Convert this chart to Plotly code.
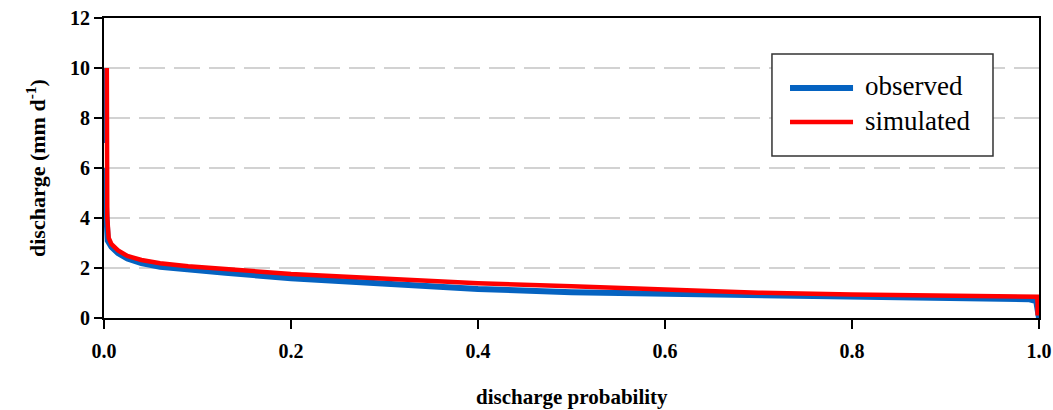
import plotly.graph_objects as go

# observed flow duration curve (None marks a gap in the drawn line)
obs_prob = [0.0, 0.0003, None, 0.0, 0.001, 0.002, 0.004, 0.008, 0.015, 0.025, 0.04, 0.06, 0.09,
            0.13, 0.2, 0.27, 0.33, 0.4, 0.5, 0.6, 0.7, 0.8, 0.9, 0.96, 0.99, 0.997, 1.0]
obs_q = [10.0, 7.0, None, 6.0, 5.0, 3.8, 3.1, 2.85, 2.6, 2.38, 2.2, 2.05, 1.93,
         1.81, 1.59, 1.42, 1.3, 1.16, 1.03, 0.97, 0.92, 0.86, 0.83, 0.8, 0.75, 0.68, 0.0]

# simulated flow duration curve
sim_prob = [0.003, 0.003, 0.0035, 0.005, 0.008, 0.015, 0.025, 0.04, 0.06, 0.09, 0.13, 0.2,
            0.27, 0.33, 0.4, 0.5, 0.6, 0.7, 0.8, 0.9, 0.99, 0.998, 0.9985, 0.9985]
sim_q = [10.0, 5.5, 4.0, 3.2, 2.95, 2.7, 2.48, 2.32, 2.19, 2.07, 1.95, 1.76,
         1.63, 1.53, 1.39, 1.27, 1.13, 1.01, 0.94, 0.9, 0.86, 0.85, 0.6, 0.1]

x_ticks = [0.0, 0.2, 0.4, 0.6, 0.8, 1.0]
x_tick_labels = ["0.0", "0.2", "0.4", "0.6", "0.8", "1.0"]
y_ticks = [0, 2, 4, 6, 8, 10, 12]
series_names = ["observed", "simulated"]
x_title = "discharge probability"
y_title = "discharge (mm d<sup>-1</sup>)"

BLUE = "#0563C1"
RED = "#FF0000"
FONT = "Liberation Serif, Times New Roman, serif"

fig = go.Figure()
fig.add_trace(go.Scatter(x=obs_prob, y=obs_q, mode="lines", name=series_names[0],
                         line=dict(color=BLUE, width=6), connectgaps=False,
                         showlegend=False))
fig.add_trace(go.Scatter(x=sim_prob, y=sim_q, mode="lines", name=series_names[1],
                         line=dict(color=RED, width=4.5), showlegend=False))

# gridlines (dashed)
for yv in y_ticks[1:-1]:
    fig.add_shape(type="line", xref="paper", yref="y", x0=0, x1=1, y0=yv, y1=yv,
                  line=dict(color="#c4c4c4", width=1.5, dash="26px,9px"), layer="below")

# manual legend
lx0, lx1, ly0, ly1 = 0.7144, 0.9508, 0.54, 0.88
fig.add_shape(type="rect", xref="paper", yref="paper", x0=lx0, x1=lx1, y0=ly0, y1=ly1,
              line=dict(color="#333333", width=1.5), fillcolor="white")
for i, (name, col, w) in enumerate(zip(series_names, [BLUE, RED], [6, 4.5])):
    yy = 0.7667 - i * 0.1134
    fig.add_shape(type="line", xref="paper", yref="paper", x0=0.7337, x1=0.8011, y0=yy, y1=yy,
                  line=dict(color=col, width=w))
    fig.add_annotation(xref="paper", yref="paper", x=0.812, y=yy + 0.005, text=name,
                       showarrow=False, xanchor="left", yanchor="middle",
                       font=dict(family=FONT, size=27, color="black"))

# axis titles
fig.add_annotation(xref="paper", yref="paper", x=0.5, y=-0.262, text="<b>%s</b>" % x_title,
                   showarrow=False, xanchor="center", yanchor="middle",
                   font=dict(family=FONT, size=21, color="black"))
fig.add_annotation(xref="paper", yref="paper", x=-0.0727, y=0.5, text="<b>%s</b>" % y_title,
                   showarrow=False, xanchor="center", yanchor="middle", textangle=-90,
                   font=dict(family=FONT, size=22, color="black"))

fig.update_layout(
    width=1053, height=410,
    margin=dict(l=104, r=14, t=18, b=92),
    paper_bgcolor="white", plot_bgcolor="white",
    font=dict(family=FONT, color="black"),
)
fig.update_xaxes(range=[0, 1], tickvals=x_ticks, ticktext=["<b>%s</b>" % t for t in x_tick_labels],
                 tickfont=dict(size=20), ticks="outside", ticklen=9, tickwidth=2,
                 ticklabelstandoff=5,
                 tickcolor="black", showline=True, linecolor="black", linewidth=2,
                 mirror=True, showgrid=False, zeroline=False, automargin=False)
fig.update_yaxes(range=[0, 12], tickvals=y_ticks, ticktext=["<b>%d</b>" % t for t in y_ticks],
                 tickfont=dict(size=20), ticks="outside", ticklen=8, tickwidth=2,
                 tickcolor="black", showline=True, linecolor="black", linewidth=2,
                 mirror=True, showgrid=False, zeroline=False, automargin=False)

fig.write_html("out.html")
